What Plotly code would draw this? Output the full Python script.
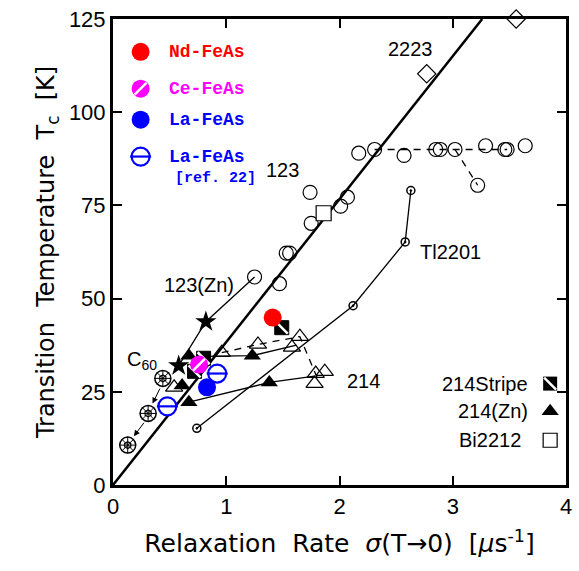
import plotly.graph_objects as go

# ---------------- data ----------------
# Uemura line
uemura_x = [0.0, 3.26]
uemura_y = [0.0, 125.0]

# 2223
x2223 = [2.77, 3.56]
y2223 = [110.3, 125.0]

# 123 (open circles)
x123 = [1.25, 1.47, 1.53, 1.56, 1.75, 1.74, 2.01, 2.07, 2.17, 2.31, 2.57, 2.85, 2.89, 3.02, 3.29, 3.46, 3.48, 3.64, 3.22]
y123 = [55.8, 54.0, 62.2, 62.2, 70.2, 78.5, 74.8, 77.2, 89.0, 90.0, 88.4, 90.0, 90.0, 90.0, 91.0, 90.0, 90.0, 91.0, 80.4]
# dashed guide through 123 plateau / overdoped branch
x123_dash = [2.31, 2.57, 2.87, 3.02, 3.29, 3.48]
y123_dash = [90.0, 90.0, 90.0, 90.0, 90.0, 90.0]
x123_od = [3.02, 3.22]
y123_od = [90.0, 80.4]

# 123(Zn)
x123zn_line = [1.25, 0.82, 0.58]
y123zn_line = [55.8, 43.8, 32.0]
x123zn_star = [0.82, 0.58]
y123zn_star = [43.8, 32.0]

# Tl2201
xtl = [0.74, 2.12, 2.58, 2.63]
ytl = [15.2, 48.1, 65.2, 79.0]

# 214 (open triangles)
x214 = [0.54, 0.96, 1.28, 1.65, 1.58, 1.79, 1.87, 1.78]
y214 = [26.2, 35.5, 37.7, 39.8, 36.9, 29.9, 30.4, 27.2]
x214_dash = [0.96, 1.28, 1.65, 1.80]
y214_dash = [35.5, 37.7, 39.8, 29.0]

# 214(Zn) (filled triangles)
x214zn = [0.67, 0.61, 0.67, 1.23, 1.38]
y214zn = [34.7, 26.7, 22.2, 34.7, 27.5]
x214zn_lineA = [0.67, 1.38, 1.78]
y214zn_lineA = [22.2, 27.5, 29.2]
x214zn_lineB = [0.82, 1.23, 1.62]
y214zn_lineB = [34.5, 34.7, 37.5]

# 214 Stripe
xstripe = [1.49, 0.80, 0.72]
ystripe = [42.2, 34.0, 30.5]

# Bi2212
xbi = [1.86]
ybi = [72.9]

# C60
xc60 = [0.44, 0.31, 0.13]
yc60 = [28.6, 19.2, 10.7]

# FeAs
x_nd, y_nd = [1.41], [44.9]
x_ce, y_ce = [0.76], [32.3]
x_la, y_la = [0.83], [26.2]
x_la22, y_la22 = [0.92, 0.48], [29.9, 21.1]

RED, MAG, BLUE = "#ff0000", "#ff00ff", "#0000ff"

fig = go.Figure()

def add(x, y, **kw):
    fig.add_trace(go.Scatter(x=x, y=y, showlegend=False, hoverinfo="skip", cliponaxis=False, **kw))

# lines
add(uemura_x, uemura_y, mode="lines", line=dict(color="black", width=2.5))
add(x123_dash, y123_dash, mode="lines", line=dict(color="black", width=1.3, dash="7px,6px"))
add(x123_od, y123_od, mode="lines", line=dict(color="black", width=1.3, dash="7px,6px"))
add(x123zn_line, y123zn_line, mode="lines", line=dict(color="black", width=1.3))
add(xtl, ytl, mode="lines", line=dict(color="black", width=1.3))
add(x214_dash, y214_dash, mode="lines", line=dict(color="black", width=1.3, dash="7px,6px"))
add(x214zn_lineA, y214zn_lineA, mode="lines", line=dict(color="black", width=1.3))
add(x214zn_lineB, y214zn_lineB, mode="lines", line=dict(color="black", width=1.3))

# markers
add(x2223, y2223, mode="markers", marker=dict(symbol="diamond-open", size=14, color="black", line=dict(width=1.2)))
add(x123, y123, mode="markers", marker=dict(symbol="circle-open", size=14, color="black", line=dict(width=1.2)))
add(xtl, ytl, mode="markers", marker=dict(symbol="circle-open-dot", size=8, color="black", line=dict(width=1.5)))
add(x214, y214, mode="markers", marker=dict(symbol="triangle-up-open", size=15, color="black", line=dict(width=1.2)))
add(x214zn, y214zn, mode="markers", marker=dict(symbol="triangle-up", size=15, color="black"))
add(x123zn_star, y123zn_star, mode="markers", marker=dict(symbol="star", size=16, color="black"))
add(xbi, ybi, mode="markers", marker=dict(symbol="square", size=15, color="white", line=dict(color="black", width=1.2)))
add(xstripe, ystripe, mode="markers", marker=dict(symbol="square", size=14, color="black", line=dict(color="black", width=1)))
add(xstripe, ystripe, mode="markers", marker=dict(symbol="line-nw", size=12, line=dict(color="white", width=2.5)))
add(xc60, yc60, mode="markers", marker=dict(symbol="circle", size=16, color="white", line=dict(color="black", width=1.5)))
add(xc60, yc60, mode="markers", marker=dict(symbol="hexagon-open", size=7, color="black", line=dict(width=1.2)))
add(xc60, yc60, mode="markers", marker=dict(symbol="asterisk-open", size=14, color="black", line=dict(width=1)))

# FeAs
add(x_nd, y_nd, mode="markers", marker=dict(symbol="circle", size=18, color=RED))
add(x_ce, y_ce, mode="markers", marker=dict(symbol="circle", size=18, color=MAG))
add(x_ce, y_ce, mode="markers", marker=dict(symbol="line-ne", size=12, line=dict(color="white", width=2.5)))
add(x_la, y_la, mode="markers", marker=dict(symbol="circle", size=18, color=BLUE))
add(x_la22, y_la22, mode="markers", marker=dict(symbol="circle", size=18, color="white", line=dict(color=BLUE, width=2.2)))
add(x_la22, y_la22, mode="markers", marker=dict(symbol="line-ew", size=15, line=dict(color=BLUE, width=2.2)))

# ---- legend markers (upper left) ----
LX = 0.244
leg_y = [116.2, 106.3, 98.0, 88.1]
add([LX], [leg_y[0]], mode="markers", marker=dict(symbol="circle", size=18, color=RED))
add([LX], [leg_y[1]], mode="markers", marker=dict(symbol="circle", size=18, color=MAG))
add([LX], [leg_y[1]], mode="markers", marker=dict(symbol="line-ne", size=12, line=dict(color="white", width=2.5)))
add([LX], [leg_y[2]], mode="markers", marker=dict(symbol="circle", size=18, color=BLUE))
add([LX], [leg_y[3]], mode="markers", marker=dict(symbol="circle-open", size=18, color=BLUE, line=dict(width=2.2)))
add([LX], [leg_y[3]], mode="markers", marker=dict(symbol="line-ew", size=15, line=dict(color=BLUE, width=2.2)))

# ---- legend markers (lower right) ----
RX = 3.86
add([RX], [27.2], mode="markers", marker=dict(symbol="square", size=14, color="black"))
add([RX], [27.2], mode="markers", marker=dict(symbol="line-nw", size=12, line=dict(color="white", width=2.5)))
add([RX], [19.8], mode="markers", marker=dict(symbol="triangle-up", size=15, color="black"))
add([RX], [12.0], mode="markers", marker=dict(symbol="square-open", size=14, color="black", line=dict(width=1.2)))

ann = []
LBL = dict(family="Liberation Sans, Arial", size=20, color="black")
def txt(x, y, t, xa="center", font=LBL):
    ann.append(dict(x=x, y=y, xref="x", yref="y", text=t, showarrow=False, xanchor=xa, yanchor="middle", font=font))

txt(2.63, 117.0, "2223")
txt(1.50, 84.5, "123")
txt(0.76, 53.7, "123(Zn)")
txt(2.69, 62.5, "Tl2201", xa="left")
txt(2.21, 28.0, "214")
txt(0.11, 33.5, "C<sub>60</sub>", xa="left")
txt(3.68, 27.2, "214Stripe", xa="right")
txt(3.68, 19.8, "214(Zn)", xa="right")
txt(3.62, 12.0, "Bi2212", xa="right")

MONO = "Liberation Mono, Courier New, monospace"
txt(0.48, leg_y[0], "<b>Nd-FeAs</b>", xa="left", font=dict(family=MONO, size=18, color=RED))
txt(0.48, leg_y[1], "<b>Ce-FeAs</b>", xa="left", font=dict(family=MONO, size=18, color=MAG))
txt(0.48, leg_y[2], "<b>La-FeAs</b>", xa="left", font=dict(family=MONO, size=18, color=BLUE))
txt(0.48, leg_y[3], "<b>La-FeAs</b>", xa="left", font=dict(family=MONO, size=18, color=BLUE))
txt(0.53, 82.2, "<b>[ref. 22]</b>", xa="left", font=dict(family=MONO, size=15, color=BLUE))

# C60 arrows (from each point toward the next)
for i in range(len(xc60) - 1):
    x0, y0, x1, y1 = xc60[i], yc60[i], xc60[i + 1], yc60[i + 1]
    tx, ty = x0 + 0.15 * (x1 - x0), y0 + 0.25 * (y1 - y0)
    hx, hy = x0 + 0.7 * (x1 - x0), y0 + 0.72 * (y1 - y0)
    ann.append(dict(x=hx, y=hy, ax=tx, ay=ty, xref="x", yref="y", axref="x", ayref="y",
                    showarrow=True, arrowhead=2, arrowsize=1.2, arrowwidth=1, arrowcolor="black", text=""))

fig.update_layout(
    width=579, height=571,
    margin=dict(l=113, r=7, t=17, b=86),
    paper_bgcolor="white", plot_bgcolor="white",
    annotations=ann,
    font=dict(family="Liberation Sans, Arial", color="black"),
)
axis_common = dict(showgrid=False, zeroline=False, showline=True, linecolor="black", linewidth=3,
                   mirror="allticks", ticks="inside", ticklen=9, tickwidth=2, tickcolor="black",
                   tickfont=dict(family="Liberation Sans, Arial", size=22, color="black"))
SP = "\u00a0\u00a0"
fig.update_xaxes(range=[0, 4], tickvals=[0, 1, 2, 3, 4], ticktext=["0", "1", "2", "3", "4"],
                 title=dict(text=f"Relaxation{SP}Rate{SP}<i>σ</i>(T→0){SP}[<i>μ</i>s<sup>-1</sup>]",
                            font=dict(family="DejaVu Sans", size=25), standoff=17),
                 **axis_common)
fig.update_yaxes(range=[0, 125], tickvals=[0, 25, 50, 75, 100, 125],
                 title=dict(text=f"Transition{SP}Temperature{SP}T<sub>c</sub>{SP}[K]",
                            font=dict(family="DejaVu Sans", size=24), standoff=8),
                 **axis_common)

fig.write_html("out.html")
